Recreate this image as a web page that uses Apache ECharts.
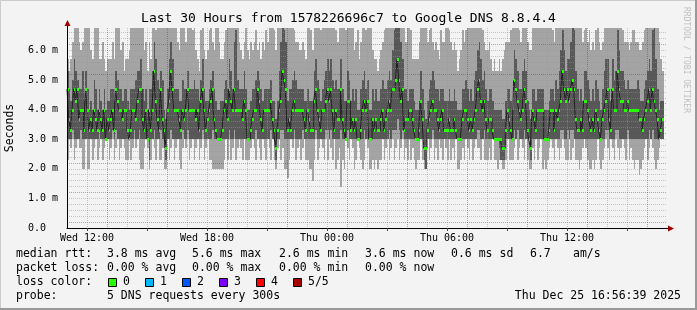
<!DOCTYPE html>
<html><head><meta charset="utf-8">
<script src="https://cdn.jsdelivr.net/npm/echarts@6/dist/echarts.min.js"></script>
<style>html,body{margin:0;padding:0;background:#f3f3f3}#c{width:697px;height:310px}</style>
</head><body><div id="c"></div>
<script>
// 5-minute steps starting Wed 11:00, values in ms (5 sorted pings per step)
const pingMin = [
2.3,3.0,2.7,3.0,2.3,2.7,3.0,2.7,2.7,2.0,2.0,3.0,
2.0,2.0,3.0,2.3,2.7,3.0,2.3,2.7,3.0,2.3,2.7,3.0,
3.0,2.3,2.7,3.0,2.3,2.7,3.0,2.3,2.7,3.0,2.7,2.3,
2.3,3.0,2.3,2.7,3.0,2.7,3.0,2.3,2.0,2.0,2.7,3.0,
2.7,2.0,2.3,3.0,2.7,2.3,3.0,2.3,2.3,2.7,2.0,2.0,
3.0,2.3,2.7,3.0,2.3,2.7,3.0,2.3,2.0,2.7,3.0,2.7,
3.0,2.3,2.7,3.0,2.3,2.7,3.0,2.3,2.7,3.0,2.3,2.7,
3.0,2.3,2.3,2.0,2.0,2.0,2.0,2.0,2.0,2.0,2.3,3.0,
2.3,3.0,2.3,2.7,3.0,2.3,2.7,3.0,2.7,2.3,3.0,2.3,
2.3,2.3,2.7,3.0,2.7,2.3,3.0,2.7,2.3,3.0,2.7,2.3,
3.0,2.7,2.3,3.0,2.3,2.0,2.7,3.0,2.3,2.7,2.0,2.0,
1.7,2.3,3.0,2.7,3.0,2.3,2.7,3.0,2.3,2.7,3.0,2.3,
2.3,2.0,2.0,1.6,2.3,3.0,2.3,2.7,3.0,2.7,2.3,3.0,
2.3,3.0,2.7,2.3,3.0,2.0,2.3,2.7,1.4,2.3,2.0,3.0,
2.7,2.3,3.0,2.7,2.0,2.3,3.0,2.7,2.3,2.0,2.3,3.0,
2.7,2.0,2.0,2.3,2.0,2.3,2.0,2.3,2.3,3.0,2.3,2.7,
3.0,2.3,2.7,3.0,2.3,2.7,3.0,2.3,2.7,3.0,2.3,2.7,
2.3,3.0,2.3,2.7,2.3,2.0,2.3,2.3,3.0,2.3,2.0,2.0,
3.0,2.3,2.7,3.0,2.3,2.7,2.3,3.0,2.7,2.3,3.0,2.7,
2.3,3.0,2.3,2.7,2.3,3.0,2.0,2.0,2.3,2.7,2.3,3.0,
2.7,2.3,3.0,2.3,2.7,3.0,2.7,2.7,2.3,3.0,2.3,2.3,
2.3,2.7,2.3,3.0,2.3,2.3,2.0,2.3,2.3,2.0,2.0,2.3,
3.0,2.3,2.3,2.3,2.7,3.0,2.3,2.7,3.0,2.7,2.3,3.0,
2.3,2.0,2.0,2.7,2.3,3.0,2.3,2.7,3.0,2.0,2.3,2.0,
2.3,2.7,3.0,2.7,2.3,3.0,2.7,2.3,2.7,3.0,2.7,2.3,
2.3,3.0,2.3,2.7,3.0,2.3,2.3,2.0,2.3,2.7,3.0,2.7,
2.3,2.0,2.0,2.3,2.0,2.3,3.0,2.3,2.0,2.3,2.7,3.0,
2.7,2.3,3.0,2.7,2.3,3.0,2.7,2.3,2.7,3.0,2.7,2.3,
3.0,2.3,2.7,2.3,2.0,2.3,2.3,1.8,2.0,2.3,2.7,3.0,
2.3,2.7,3.0,2.7,2.3,2.0,2.3,2.7,3.0,3.0];
const pingLow = [
3.0,3.0,3.0,3.3,3.0,3.0,3.0,3.0,3.3,3.0,3.0,3.0,
3.0,3.0,3.0,3.0,3.0,3.0,3.0,3.3,3.0,3.0,3.0,3.0,
3.0,3.0,3.0,3.3,3.0,3.3,3.0,3.0,3.0,3.0,3.0,3.0,
3.0,3.0,3.0,3.0,3.3,3.0,3.0,3.3,3.0,3.0,3.0,3.0,
3.0,2.3,3.0,3.0,3.3,3.0,3.0,3.0,3.3,3.0,2.7,2.3,
3.0,3.0,3.3,3.0,3.0,3.0,3.0,3.0,3.0,3.3,3.0,3.0,
3.3,3.0,3.0,3.0,3.0,3.0,3.0,3.0,3.0,3.3,3.0,3.0,
3.0,3.0,3.0,3.3,3.0,3.0,3.0,3.0,3.0,3.0,3.0,3.0,
3.0,3.3,3.0,3.0,3.3,3.0,3.0,3.0,3.0,3.0,3.0,3.0,
3.0,3.0,3.0,3.0,3.0,3.3,3.0,3.0,3.0,3.0,3.0,3.0,
3.0,3.0,3.3,3.0,3.0,2.3,3.0,3.0,3.3,3.3,3.0,3.0,
3.0,3.0,3.0,3.0,3.3,3.0,3.0,3.0,3.0,3.3,3.0,3.0,
3.0,3.0,3.0,3.0,3.0,3.3,3.0,3.0,3.0,3.0,3.0,3.3,
3.3,3.0,3.3,3.0,3.0,3.0,3.0,3.0,3.3,3.0,3.0,3.0,
3.3,3.0,3.0,3.0,3.0,3.0,3.0,3.0,3.0,3.0,3.3,3.0,
3.0,3.0,3.0,3.0,3.0,3.0,3.0,3.0,3.0,3.0,3.0,3.0,
3.0,3.3,3.0,3.3,3.3,3.3,3.7,3.3,3.0,3.3,3.0,3.0,
3.0,3.0,3.0,3.0,3.0,3.0,3.0,3.0,3.0,3.0,2.3,2.0,
3.0,3.0,3.0,3.3,3.0,3.0,3.0,3.0,3.0,3.0,3.0,3.0,
3.0,3.0,3.0,3.0,3.0,3.0,3.0,3.0,3.0,3.0,3.0,3.0,
3.0,3.0,3.0,3.0,3.0,3.0,3.3,3.3,3.0,3.0,3.3,3.0,
3.0,3.0,3.0,3.0,3.0,3.0,3.0,2.7,2.3,2.3,2.3,3.0,
3.0,3.0,3.0,3.0,3.3,3.0,3.3,3.0,3.0,3.0,3.3,3.0,
3.0,3.0,2.3,3.0,3.0,3.0,3.0,3.0,3.0,3.0,3.0,3.0,
3.0,3.0,3.0,3.0,3.0,3.0,3.0,3.0,3.3,3.3,3.0,3.0,
3.3,3.0,3.3,3.3,3.0,3.0,3.0,3.0,3.0,3.0,3.0,3.0,
3.0,3.0,3.0,3.0,3.0,3.0,3.0,3.0,3.0,3.0,3.0,3.3,
3.3,3.0,3.0,3.0,3.0,3.3,3.3,3.0,3.0,3.0,3.0,3.0,
3.3,3.0,3.0,3.0,3.0,3.0,3.0,3.0,3.0,3.0,3.0,3.0,
3.0,3.3,3.0,3.3,3.0,3.0,3.0,3.0,3.0,3.0];
const pingMedian = [
4.7,3.7,3.3,4.0,4.7,4.3,4.7,3.7,4.0,4.0,3.3,4.7,
4.0,3.3,3.7,3.3,4.0,3.7,3.3,4.0,3.7,3.3,4.0,3.0,
3.7,3.3,3.7,4.0,3.3,4.7,4.3,4.0,4.0,3.7,4.0,4.0,
3.3,3.0,3.3,4.0,4.0,3.7,4.3,4.7,4.7,3.7,3.3,4.0,
3.0,4.0,3.3,4.0,5.3,4.3,3.7,3.3,4.7,3.7,3.3,2.7,
4.0,4.3,5.3,4.7,4.0,4.0,4.0,3.7,3.3,4.0,3.7,4.0,
4.7,4.0,4.0,4.0,4.0,3.7,4.0,3.3,4.3,4.7,4.0,3.3,
3.7,4.0,4.3,4.7,3.7,3.3,3.0,3.0,3.0,3.3,4.0,4.3,
3.7,4.7,4.3,4.0,4.7,4.0,4.0,4.0,4.0,3.7,4.3,4.0,
3.0,3.0,3.3,3.7,4.0,4.0,4.7,4.3,3.7,3.3,4.0,4.0,
4.0,4.0,4.3,3.7,3.3,2.7,3.3,4.0,4.3,5.3,5.0,4.7,
3.3,3.7,3.3,4.0,4.3,4.0,4.0,4.0,4.0,4.0,3.7,3.3,
4.0,3.7,3.3,3.3,4.3,4.7,4.0,3.7,3.3,4.0,4.0,4.3,
4.7,4.3,4.7,4.0,3.3,4.0,3.7,3.7,4.7,3.7,3.3,3.0,
4.3,4.3,3.3,3.7,3.3,3.7,3.0,3.0,3.3,4.0,4.3,4.0,
4.3,3.0,3.0,3.7,3.3,3.7,3.3,3.3,3.7,4.0,3.3,3.7,
4.0,4.3,4.0,4.7,4.7,5.0,5.7,5.0,4.3,4.7,3.3,3.7,
3.7,4.0,4.0,3.7,3.3,3.0,3.0,3.3,4.3,3.7,2.7,2.7,
3.3,3.7,4.0,4.3,4.0,4.0,3.7,3.3,3.7,4.0,3.3,3.3,
3.3,3.7,3.3,3.3,3.7,3.3,3.0,3.0,3.0,3.7,4.0,4.0,
3.7,3.3,3.7,3.3,3.7,4.0,4.7,5.0,4.3,4.0,4.3,3.7,
3.3,3.7,3.7,3.3,3.0,3.0,3.0,3.0,3.0,2.7,2.7,3.3,
4.0,3.7,3.3,3.0,5.0,4.7,4.3,4.0,3.7,4.0,4.7,4.3,
3.3,3.0,2.7,4.0,3.7,3.3,4.0,4.0,4.0,4.0,3.0,3.0,
3.0,3.3,4.0,4.0,3.3,4.0,3.7,4.0,4.3,5.3,4.7,4.3,
4.7,4.3,4.7,5.0,4.7,3.7,3.3,3.3,3.7,3.3,4.3,4.3,
4.0,3.7,3.3,3.7,3.3,4.0,3.7,3.3,3.0,3.7,4.0,4.3,
4.7,3.7,3.3,4.7,4.0,4.0,5.3,4.7,4.3,4.3,4.0,4.0,
4.3,4.0,4.0,4.0,4.0,4.0,4.0,3.7,3.7,3.3,3.7,4.0,
4.3,4.7,4.0,4.7,4.3,4.0,3.7,3.0,3.3,3.7];
const pingHigh = [
5.3,4.7,4.3,5.0,5.7,5.3,5.0,4.7,4.7,5.3,4.3,5.3,
4.7,4.0,4.3,4.0,5.0,4.7,4.0,4.7,4.3,4.0,4.7,4.0,
4.3,4.3,4.7,4.7,4.3,5.3,5.0,4.7,4.7,4.3,4.7,4.7,
4.3,4.0,4.7,4.7,4.7,5.0,5.3,5.3,5.7,4.7,4.3,4.7,
4.0,4.7,4.7,5.3,6.3,5.7,5.0,4.7,5.3,5.0,4.0,3.7,
4.7,5.7,6.3,5.7,4.7,4.7,4.7,4.3,4.3,5.0,4.7,4.7,
5.3,4.7,4.7,4.7,5.0,4.7,4.7,4.3,5.0,5.7,4.7,4.3,
4.3,4.7,5.0,5.3,4.7,4.3,4.0,4.0,4.3,4.3,4.7,5.0,
4.7,5.7,5.3,4.7,6.3,6.7,5.0,4.7,4.7,4.7,5.3,4.7,
4.0,4.0,4.3,4.7,4.7,5.0,5.3,5.0,4.7,4.3,4.7,4.7,
4.7,4.7,5.0,4.3,4.3,3.7,4.3,5.3,6.3,7.5,6.7,6.3,
4.3,4.7,4.7,5.0,5.3,5.0,4.7,4.7,4.7,4.7,4.3,4.3,
4.7,4.3,4.3,4.3,5.3,5.7,5.0,4.7,4.3,4.7,5.0,5.3,
5.7,5.3,5.7,5.0,4.7,5.0,4.7,4.7,5.7,4.7,4.3,4.3,
5.3,5.0,4.3,4.7,4.3,4.7,4.0,4.0,4.7,5.0,5.3,4.7,
5.0,4.0,4.0,4.7,4.3,4.7,4.3,4.3,4.7,5.0,4.7,4.7,
5.0,5.3,5.0,6.0,6.7,7.5,7.5,7.5,6.3,5.7,4.7,4.7,
4.3,4.7,4.7,4.7,4.3,4.0,4.0,4.3,5.3,4.7,4.0,3.7,
4.3,4.7,5.0,5.3,5.0,4.7,4.7,4.3,4.7,4.7,4.3,4.3,
4.3,4.7,4.3,4.3,4.7,4.3,4.0,4.0,4.0,4.7,4.7,5.0,
4.7,4.3,4.7,4.3,5.0,5.3,6.0,6.3,5.7,5.0,5.3,4.7,
4.3,4.7,4.7,4.3,4.0,4.0,4.0,4.0,4.0,3.7,3.7,4.3,
4.7,4.7,4.3,4.0,6.0,5.7,5.3,4.7,4.7,5.3,5.7,5.3,
4.3,4.0,3.7,4.7,4.7,4.3,4.7,4.7,4.7,4.7,4.0,4.0,
4.0,4.3,4.7,4.7,4.3,5.0,4.7,5.3,6.0,6.7,6.0,5.3,
5.7,5.7,6.3,7.5,6.7,5.3,4.7,4.3,4.7,4.3,5.3,5.3,
5.0,4.7,4.3,4.7,4.3,5.0,4.7,4.3,4.0,4.7,5.3,5.7,
5.7,4.7,4.3,5.7,5.0,5.3,6.7,6.0,5.3,5.3,5.0,4.7,
5.0,4.7,4.7,4.7,4.7,4.7,5.0,4.7,4.3,4.3,4.7,5.0,
5.3,5.7,5.3,6.7,7.5,5.7,4.7,4.0,4.3,4.3];
const pingMax = [
5.7,5.3,5.7,6.3,7.5,7.5,7.5,6.3,6.0,6.3,7.5,7.5,
7.5,7.5,6.0,5.7,7.5,7.5,7.5,5.7,5.7,6.3,5.7,5.3,
5.7,5.7,5.7,6.3,5.7,7.5,7.5,7.5,6.0,6.3,5.3,5.7,
5.7,6.0,7.5,7.5,7.5,7.5,7.5,7.5,7.5,7.5,6.0,6.3,
5.3,6.3,5.7,7.5,7.5,6.7,7.5,7.5,7.5,7.5,7.5,7.5,
7.5,7.5,7.5,7.5,7.5,7.5,6.3,6.0,7.5,7.5,7.5,6.3,
7.5,7.5,7.5,6.7,7.5,6.0,5.7,5.3,6.7,7.5,6.0,5.7,
6.0,6.7,7.5,6.3,6.0,7.5,7.5,6.3,5.7,5.7,6.3,6.7,
7.5,7.5,7.5,7.5,7.5,7.5,7.5,6.3,6.0,5.7,6.3,7.5,
6.0,5.7,6.3,6.0,6.3,6.7,6.0,6.3,5.7,6.3,6.0,6.7,
6.3,7.5,7.5,7.5,6.7,6.0,7.5,7.5,7.5,7.5,7.5,7.5,
7.5,7.5,7.5,7.5,6.7,6.3,6.3,6.0,6.0,6.3,6.0,5.7,
7.5,7.5,6.7,6.0,7.5,7.5,7.5,7.5,6.7,7.5,7.5,7.5,
7.5,7.5,7.5,7.5,7.5,6.7,6.3,7.5,7.5,7.5,7.5,6.7,
7.5,7.5,7.5,7.5,6.0,6.3,6.7,5.7,6.3,7.5,7.5,6.7,
7.5,7.5,7.5,6.0,5.7,5.7,5.3,5.7,6.0,6.3,6.7,7.5,
7.5,7.5,7.5,7.5,7.5,7.5,7.5,7.5,7.5,7.5,7.5,6.3,
7.5,7.5,6.7,5.7,5.7,5.7,5.7,6.3,7.5,7.5,7.5,7.5,
6.3,6.7,7.5,6.3,6.0,6.3,6.0,5.7,6.7,6.3,6.3,7.5,
7.5,6.7,6.3,6.0,6.3,6.0,5.3,5.7,6.0,6.7,6.3,6.7,
7.5,7.5,7.5,7.5,7.5,7.5,7.5,7.5,7.5,6.7,6.3,6.0,
6.0,6.3,5.7,5.3,5.7,5.3,5.3,5.7,5.3,5.7,6.0,6.3,
6.3,6.3,6.7,7.5,7.5,7.5,7.5,6.7,6.3,7.5,7.5,7.5,
6.3,6.0,6.0,7.5,7.5,7.5,7.5,7.5,7.5,7.5,7.5,7.5,
7.5,7.5,7.5,6.7,6.3,7.5,7.5,7.5,7.5,7.5,7.5,7.5,
7.5,7.5,7.5,7.5,7.5,7.5,7.5,7.5,7.5,6.3,6.7,7.5,
6.3,6.7,6.0,6.3,6.0,6.7,7.5,6.3,6.0,6.3,7.5,7.5,
7.5,7.5,7.5,7.5,7.5,7.5,7.5,7.5,7.5,6.7,6.3,6.3,
6.3,6.0,6.3,6.7,6.7,6.3,6.3,6.0,6.0,6.3,6.7,7.5,
7.5,7.5,7.5,7.5,7.5,7.5,7.5,6.3,5.7,5.3];

const totalSteps = 360;
const timeLabels = ['Wed 12:00', 'Wed 18:00', 'Thu 00:00', 'Thu 06:00', 'Thu 12:00'];
const timeLabelSteps = [12, 84, 156, 228, 300];
const majorTickSteps = [12, 48, 84, 120, 156, 192, 228, 264, 300, 336];
const yTickLabels = ['0.0  ', '1.0 m', '2.0 m', '3.0 m', '4.0 m', '5.0 m', '6.0 m'];

const lossColors = ['#26ff00', '#00b8ff', '#0059ff', '#7e00ff', '#ff0000', '#a80000'];
const lossLabels = ['0', '1', '2', '3', '4', '5/5'];

const MONO = '"DejaVu Sans Mono", monospace';
const smokeData = pingMin.map((v, i) => [i, pingMin[i], pingLow[i], pingMedian[i], pingHigh[i], pingMax[i]]);
const medianLine = pingMedian.map((v, i) => [i, v]);
medianLine.push([pingMedian.length, pingMedian[pingMedian.length - 1]]);

function clampY(params, y) {
  const cs = params.coordSys;
  return Math.min(cs.y + cs.height, Math.max(cs.y, Math.round(y)));
}
function renderSmoke(params, api) {
  const i = api.value(0);
  const x0 = Math.round(api.coord([i, 0])[0]);
  const x1 = Math.round(api.coord([i + 1, 0])[0]);
  const yMin = clampY(params, api.coord([i, api.value(1)])[1]);
  const yLo = clampY(params, api.coord([i, api.value(2)])[1]);
  const yHi = clampY(params, api.coord([i, api.value(4)])[1]);
  const yMax = clampY(params, api.coord([i, api.value(5)])[1]);
  return { type: 'group', children: [
    { type: 'rect', shape: { x: x0, y: yMax, width: x1 - x0, height: yMin - yMax }, style: { fill: '#a4a4a4' } },
    { type: 'rect', shape: { x: x0, y: yHi, width: x1 - x0, height: yLo - yHi }, style: { fill: '#585858' } }
  ]};
}
function renderMedian(params, api) {
  const i = api.value(0);
  const x0 = Math.round(api.coord([i, 0])[0]);
  const x1 = Math.round(api.coord([i + 1, 0])[0]);
  const y = Math.round(api.coord([i, api.value(1)])[1]);
  return { type: 'rect', shape: { x: x0, y: y - 1, width: x1 - x0, height: 3 }, style: { fill: lossColors[0] } };
}

const chart = echarts.init(document.getElementById('c'), null, { renderer: 'canvas' });
const txt = (x, y, text, opts) => Object.assign({ type: 'text', x, y, silent: true,
  style: Object.assign({ text, font: '11.5px ' + MONO, fill: '#000', textVerticalAlign: 'middle' }, (opts || {}).style || {}) }, (opts || {}).el || {});

const graphics = [
  { type: 'rect', shape: { x: 0.5, y: 0.5, width: 696, height: 309 }, style: { fill: null, stroke: '#cbcbcb', lineWidth: 1 }, silent: true },
  { type: 'polyline', shape: { points: [[696, 0], [696, 309], [0, 309]] }, style: { stroke: '#999999', lineWidth: 2, fill: null }, silent: true },
  { type: 'line', shape: { x1: 67.5, y1: 28, x2: 67.5, y2: 24 }, style: { stroke: '#000', lineWidth: 1 }, silent: true },
  { type: 'line', shape: { x1: 667, y1: 228.5, x2: 670, y2: 228.5 }, style: { stroke: '#000', lineWidth: 1 }, silent: true },
  { type: 'polygon', shape: { points: [[67.5, 20], [64.5, 26], [70.5, 26]] }, style: { fill: '#a00000' }, silent: true },
  { type: 'polygon', shape: { points: [[674, 228.5], [668, 225.5], [668, 231.5]] }, style: { fill: '#a00000' }, silent: true },
  txt(348.5, 19, 'Last 30 Hours from 1578226696c7 to Google DNS 8.8.4.4', { style: { font: '13px ' + MONO, textAlign: 'center' } }),
  txt(10, 128, 'Seconds', { style: { textAlign: 'center' }, el: { rotation: Math.PI / 2 } }),
  txt(686, 60, 'RRDTOOL / TOBI OETIKER', { style: { font: '8px ' + MONO, fill: '#c0c0c0', textAlign: 'center' }, el: { rotation: -Math.PI / 2 } }),
  txt(16, 254, 'median rtt:'), txt(107, 254, '3.8 ms avg'), txt(192, 254, '5.6 ms max'), txt(279, 254, '2.6 ms min'),
  txt(365, 254, '3.6 ms now'), txt(451, 254, '0.6 ms sd'), txt(530, 254, '6.7'), txt(573, 254, 'am/s'),
  txt(16, 268, 'packet loss:'), txt(107, 268, '0.00 % avg'), txt(192, 268, '0.00 % max'), txt(279, 268, '0.00 % min'), txt(365, 268, '0.00 % now'),
  txt(16, 282, 'loss color:'),
  txt(16, 296, 'probe:'), txt(107, 296, '5 DNS requests every 300s'),
  txt(681, 296, 'Thu Dec 25 16:56:39 2025', { style: { textAlign: 'right' } })
];
lossColors.forEach((c, k) => {
  const bx = 108 + k * 37;
  graphics.push({ type: 'rect', shape: { x: bx + 0.5, y: 278.5, width: 8, height: 8 }, style: { fill: c, stroke: '#000', lineWidth: 1 }, silent: true });
  graphics.push(txt(bx + 15, 282, lossLabels[k]));
});

chart.setOption({
  animation: false,
  backgroundColor: '#f3f3f3',
  grid: { left: 67, top: 28, width: 600, height: 200, outerBoundsMode: 'none', containLabel: false },
  xAxis: [{
    type: 'value', min: 0, max: totalSteps, interval: 12, z: 10,
    axisLine: { show: true, onZero: false, lineStyle: { color: '#000', width: 1 } },
    axisTick: { show: false },
    axisLabel: { margin: 5, color: '#000', fontFamily: MONO, fontSize: 10,
      formatter: v => { const k = timeLabelSteps.indexOf(Math.round(v)); return k >= 0 ? timeLabels[k] : ''; } },
    splitLine: { show: true, showMinLine: false, showMaxLine: false,
      lineStyle: { type: [1, 1], width: 1, color: ['rgba(150,150,150,0.5)', 'rgba(255,0,0,0.45)', 'rgba(150,150,150,0.5)'] } }
  }, {
    type: 'value', min: 0, max: totalSteps, position: 'bottom', z: 11,
    axisLine: { show: false }, axisLabel: { show: false }, splitLine: { show: false },
    axisTick: { show: true, inside: false, length: 3, customValues: majorTickSteps, lineStyle: { color: '#ff0000', width: 1 } }
  }],
  yAxis: [{
    type: 'value', min: 0, max: 6.76, interval: 0.2, z: 10,
    axisLine: { show: true, lineStyle: { color: '#000', width: 1 } },
    axisTick: { show: false },
    axisLabel: { margin: 9, color: '#000', fontFamily: MONO, fontSize: 10, showMaxLabel: false,
      formatter: v => { const r = Math.round(v); return Math.abs(v - r) < 1e-6 && yTickLabels[r] !== undefined ? yTickLabels[r] : ''; } },
    splitLine: { show: true, showMinLine: false, showMaxLine: false,
      lineStyle: { type: [1, 1], width: 1, color: ['rgba(255,0,0,0.45)', 'rgba(150,150,150,0.5)', 'rgba(150,150,150,0.5)', 'rgba(150,150,150,0.5)', 'rgba(150,150,150,0.5)'] } }
  }],
  series: [
    { type: 'custom', name: 'smoke', renderItem: renderSmoke, data: smokeData, encode: { x: 0, y: [1, 2, 3, 4, 5] }, silent: true, z: 1 },
    { type: 'line', name: 'median', data: medianLine, step: 'end', symbol: 'none', lineStyle: { color: '#202020', width: 1 }, silent: true, z: 2 },
    { type: 'custom', name: 'median loss 0', renderItem: renderMedian, data: medianLine.slice(0, pingMedian.length), encode: { x: 0, y: 1 }, silent: true, z: 3 }
  ],
  graphic: graphics
});
</script></body></html>
